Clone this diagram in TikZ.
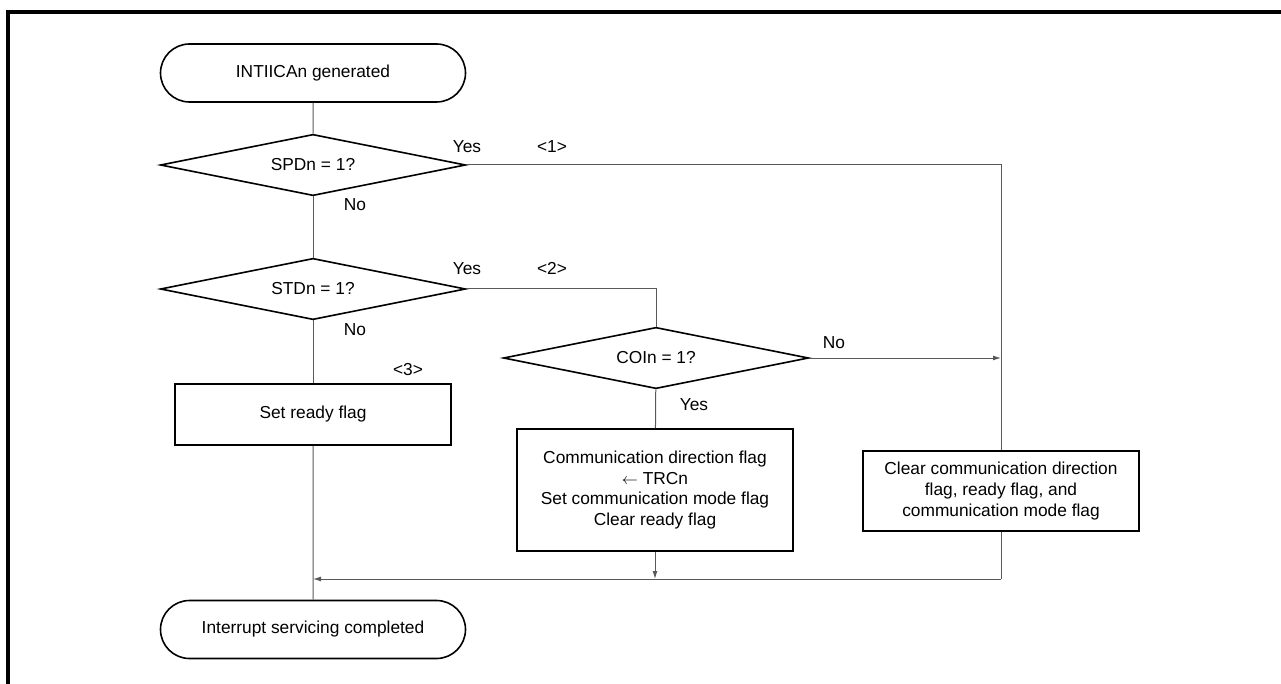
\documentclass[tikz,border=0pt]{standalone}
\usepackage{amsmath, amssymb}
\usepackage{fontspec}
\setmainfont{Liberation Sans}
\usepackage{xcolor}
\usepackage{tikz}
\usetikzlibrary{shapes.geometric,shapes.misc,arrows.meta,positioning,calc}

\begin{document}
\begin{tikzpicture}[
    x=0.75pt, y=-0.75pt,
    font=\fontsize{13pt}{15.7pt}\selectfont,
    terminal/.style = {draw, rounded rectangle, line width=1.2pt, minimum width=228.75pt, minimum height=43.5pt, inner sep=0pt},
    decision/.style = {draw, diamond, aspect=5, line width=1.2pt, minimum width=229pt, minimum height=46pt, inner sep=0pt},
    process/.style = {draw, rectangle, line width=1.2pt, minimum width=207pt, align=center, inner sep=2pt},
    flow/.style = {draw=black!65, line width=0.75pt},
    flowarrow/.style = {flow, -{Latex[length=6pt, width=3.75pt]}},
    branch_label/.style = {inner sep=0pt}
]
    \useasboundingbox (0,0) rectangle (1281,684);
    \draw[line width=3pt] (8,684) -- (8,12.5) -- (1281,12.5);

    \node[terminal] (start) at (313,73) {INTIICAn generated};
    \node[decision] (spd) at (313,165) {SPDn = 1?};
    \node[decision] (std) at (313,289) {STDn = 1?};
    \node[decision] (coi) at (656,358) {COIn = 1?};
    \node[process, minimum height=45.75pt] (ready) at (313,414.5) {Set ready flag};
    \node[process, minimum height=91.5pt] (comm) at (655,490)
        {Communication direction flag\\$\leftarrow$ TRCn\\Set communication mode flag\\Clear ready flag};
    \node[process, minimum height=60pt] (clear) at (1001,491)
        {Clear communication direction\\flag, ready flag, and\\communication mode flag};
    \node[terminal] (stop) at (313,629.5) {Interrupt servicing completed};

    \coordinate (c1) at (1001,165);
    \coordinate (c2) at (656,289);
    \coordinate (c3) at (1001,358);
    \coordinate (c4) at (655,579);
    \coordinate (c5) at (1001,579);
    \coordinate (join) at (313,579);

    \draw[flow] (start) -- (spd);
    \draw[flow] (spd) -- (std);
    \draw[flow] (std) -- (ready);
    \draw[flow] (ready) -- (stop);
    \draw[flow] (spd.east) -- (c1) -- (clear);
    \draw[flow] (std.east) -- (c2) -- (coi);
    \draw[flowarrow] (coi.east) -- (c3);
    \draw[flow] (coi) -- (comm);
    \draw[flowarrow] (comm) -- (c4);
    \draw[flow] (clear) -- (c5);
    \draw[flowarrow] (c5) -- (join);

    \node[branch_label] (yes1) at (467,147) {Yes};
    \node[branch_label] (mark1) at (552,147) {<1>};
    \node[branch_label] (no1) at (355,205) {No};
    \node[branch_label] (yes2) at (467,269) {Yes};
    \node[branch_label] (mark2) at (552,268) {<2>};
    \node[branch_label] (no2) at (355,330) {No};
    \node[branch_label] (no3) at (834,343) {No};
    \node[branch_label] (yes3) at (694,405) {Yes};
    \node[branch_label] (mark3) at (408,370) {<3>};
\end{tikzpicture}
\end{document}
